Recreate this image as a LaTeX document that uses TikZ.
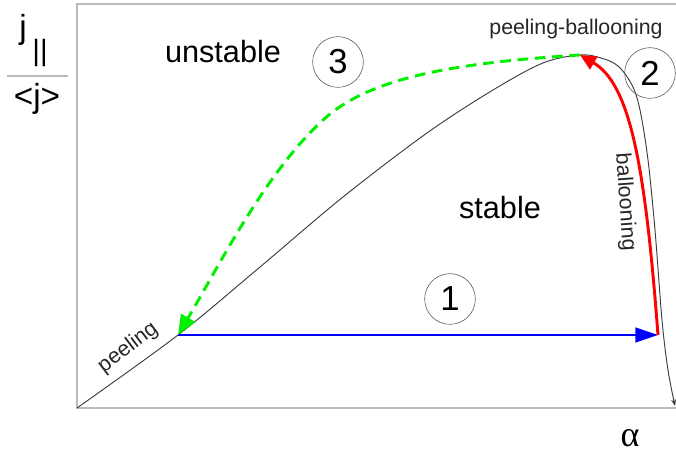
\documentclass[tikz,border=0pt]{standalone}
\usepackage{fontspec}
\setmainfont{Liberation Sans}
\newfontfamily\alphafont{Liberation Serif}
\usepackage{tikz}
\usetikzlibrary{arrows.meta}
\definecolor{framegray}{RGB}{185, 185, 185}
\definecolor{limitgray}{RGB}{60, 60, 60}
\definecolor{pathblue}{RGB}{0, 0, 255}
\definecolor{pathred}{RGB}{255, 0, 0}
\definecolor{pathgreen}{RGB}{0, 240, 0}

\begin{document}
\begin{tikzpicture}[x=0.75pt, y=0.75pt, >=Stealth,
  stepnum/.style={draw=black!70, thin, circle, minimum size=38pt, inner sep=0pt, font=\fontsize{26}{28}\selectfont},
  region/.style={font=\fontsize{23}{26}\selectfont, anchor=base},
  edgelabel/.style={font=\fontsize{16}{18}\selectfont, text=black!85}]

  \useasboundingbox (0,0) rectangle (676,454);

  % ---------- frame and axis labels ----------
  \draw[framegray, line width=1.4pt] (676,450) -- (77,450) -- (77,46) -- (676,46);
  \node[font=\fontsize{25}{28}\selectfont, anchor=base] (jj) at (23,415) {j};
  \node[font=\fontsize{22}{24}\selectfont, anchor=base] (jsub) at (40,393) {||};
  \draw[framegray, line width=1.4pt] (7,378) -- (68,378);
  \node[font=\fontsize{25}{28}\selectfont, anchor=base] (jmean) at (37,346) {<j>};
  \node[font=\fontsize{27}{30}\selectfont\alphafont, anchor=base] (alph) at (630,7) {α};

  % ---------- stability boundary ----------
  \coordinate (orig) at (77,46);
  \coordinate (pl) at (178,119);
  \coordinate (pb) at (580,399);
  \coordinate (bl) at (658,119);
  \coordinate (tail) at (675,48);
  \draw[limitgray, line width=0.7pt, -{Stealth[length=5pt]}] plot[smooth, tension=0.55] coordinates
    {(orig) (pl) (260,187) (343,257) (427,321) (493,364) (543,391) (pb) (601,396) (618,388) (632,369)
     (640,344) (648,294) (655,224) (662,134) (668,84) (tail)};

  % ---------- paths 1, 2, 3 ----------
  \draw[pathblue, line width=1.9pt, -{Triangle[length=17pt, width=11pt]}] (pl) -- (bl);
  \draw[pathred, line width=2.2pt, -{Triangle[length=12pt, width=11pt]}]
    (bl) .. controls (645,290) and (630,370) .. (pb);
  \draw[pathgreen, line width=2.2pt, dash pattern=on 8pt off 5pt, -{Triangle[length=15pt, width=12pt]}]
    (pb) .. controls (470,392) and (380,380) .. (330,340) .. controls (270,290) and (220,190) .. (pl);

  % ---------- labels ----------
  \node[region] (unst) at (223,391) {unstable};
  \node[region] (stab) at (500,235) {stable};
  \node[stepnum] (s1) at (450,155) {1};
  \node[stepnum] (s2) at (650,381) {2};
  \node[stepnum] (s3) at (338,392) {3};
  \node[edgelabel, anchor=base] (pbl) at (576,419) {peeling-ballooning};
  \node[edgelabel, rotate=37] (peel) at (128,106) {peeling};
  \node[edgelabel, rotate=-86] (ball) at (625,252) {ballooning};

\end{tikzpicture}
\end{document}
